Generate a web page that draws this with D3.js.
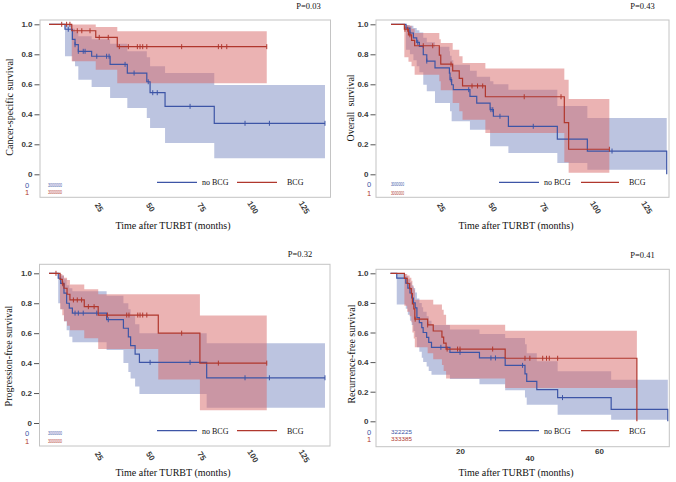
<!DOCTYPE html>
<html><head><meta charset="utf-8">
<script src="https://cdn.jsdelivr.net/npm/d3@7"></script>
<style>body{margin:0;background:#fff} svg{display:block}</style>
</head><body><svg width="676" height="482"></svg>
<script>
// ---------- data ----------
const groupNames = ["no BCG", "BCG"];
const pValues = ["P=0.03", "P=0.43", "P=0.32", "P=0.41"];
const yTitles = ["Cancer-specific survival", "Overall  survival", "Progression-free survival", "Recurrence-free survival"];
const xTitle = "Time after TURBT (months)";
const yTickValues = [0, 0.2, 0.4, 0.6, 0.8, 1.0];
const xTicksLong = [25, 50, 75, 100, 125];
const xTicksRfs = [20, 40, 60];
const riskGroupLabels = ["0", "1"];
const riskStrings = [["3000000", "3000000"], ["3000000", "3000000"], ["3000000", "3000000"], ["322225", "333385"]];

// rows: [time, survival, lower CL, upper CL]
const csNoBCG = [[0,1,1,1],[7.8,0.967,0.787,0.995],[11.4,0.9,0.753,0.97],[12.7,0.864,0.72,0.95],[14.3,0.82,0.63,0.92],[20.8,0.787,0.582,0.9],[29.8,0.733,0.509,0.87],[38.2,0.675,0.442,0.82],[47.7,0.617,0.375,0.78],[49.3,0.544,0.309,0.72],[56.6,0.453,0.209,0.675],[80.6,0.34,0.107,0.595]];
const csNoBCGCens = [9.4,12.7,14.3,16.7,17.6,23.3,28.1,29.3,37.1,41.5,48.4,50.6,52.8,68.8,95.6,107.5,134.6];
const csBCG = [[0,1,1,1],[11.1,0.957,0.753,0.998],[22.8,0.913,0.697,0.982],[33.3,0.851,0.607,0.953]];
const csBCGCens = [6.2,8.6,10.2,13.8,16,20,24.5,28.9,34.3,38.7,43.1,44.4,45.7,47.7,64.7,82.6,84.2,86.7,106.2];

const osNoBCG = [[0,1,1,1],[7.3,0.975,0.83,0.996],[9.2,0.942,0.8,0.99],[10.9,0.909,0.76,0.975],[12.5,0.88,0.72,0.96],[13.8,0.853,0.68,0.945],[15.7,0.797,0.597,0.91],[17.4,0.755,0.553,0.88],[21.4,0.709,0.475,0.85],[28.4,0.675,0.475,0.82],[28.7,0.631,0.42,0.79],[29.5,0.597,0.353,0.76],[30.3,0.564,0.353,0.73],[38.4,0.52,0.297,0.69],[41.7,0.475,0.297,0.65],[48.2,0.431,0.187,0.62],[49.8,0.387,0.187,0.6],[57.1,0.32,0.142,0.564],[80.9,0.235,0.075,0.455],[95.5,0.155,0.031,0.375]];
const osNoBCGCens = [9.2,13,17.4,29.2,37.8,48.6,49.5,53,69.2,107.5];
const osBCG = [[0,1,1,1],[6.5,0.967,0.78,0.995],[8.5,0.93,0.75,0.99],[10,0.893,0.72,0.97],[11.5,0.857,0.664,0.942],[23.5,0.795,0.62,0.9],[24.2,0.735,0.56,0.875],[30,0.689,0.475,0.83],[33.2,0.64,0.42,0.787],[34.8,0.589,0.364,0.742],[45.9,0.517,0.275,0.705],[84.3,0.345,0.08,0.63],[86.4,0.167,0.01,0.502]];
const osBCGCens = [6.8,8.1,9.2,15.7,20.3,29.2,39.4,42.1,44.6,64.8,82.7,106.2];

const pfsNoBCG = [[0,1,1,1],[4.5,0.967,0.8,0.995],[5.7,0.933,0.76,0.985],[7.3,0.867,0.68,0.96],[8.6,0.8,0.62,0.92],[9.9,0.767,0.576,0.9],[11.4,0.734,0.539,0.88],[28.1,0.69,0.488,0.85],[36.3,0.633,0.4,0.8],[38.7,0.575,0.34,0.76],[39.8,0.517,0.298,0.72],[42,0.46,0.243,0.66],[44.1,0.405,0.194,0.6],[76.9,0.302,0.102,0.532]];
const pfsNoBCGCens = [12.7,14.3,16.7,23.3,28.9,49.3,68.8,95.6,107.5,134.6];
const pfsBCG = [[0,1,1,1],[5.4,0.96,0.76,0.995],[6.5,0.93,0.72,0.985],[7.3,0.9,0.68,0.97],[8.8,0.86,0.65,0.955],[10.2,0.822,0.62,0.926],[17.2,0.777,0.566,0.893],[24,0.721,0.495,0.86],[53.3,0.6,0.29,0.86],[73.6,0.4,0.085,0.718]];
const pfsBCGCens = [3.4,6.7,11.9,13.8,15.9,19.2,22,28.5,37.9,39,43.3,44.4,45.7,47.7,64.7,82.6,106.2];

const rfsNoBCG = [[0,1,1,1],[1.8,0.967,0.79,0.995],[4.4,0.933,0.76,0.98],[5,0.9,0.72,0.96],[5.6,0.867,0.68,0.94],[6.1,0.833,0.65,0.92],[6.6,0.8,0.61,0.9],[7.1,0.767,0.57,0.87],[7.6,0.7,0.5,0.83],[8.3,0.667,0.47,0.8],[9,0.633,0.43,0.77],[9.4,0.6,0.4,0.74],[10.4,0.567,0.37,0.71],[11,0.533,0.34,0.68],[11.8,0.5,0.315,0.65],[17.1,0.466,0.285,0.62],[25.6,0.428,0.25,0.59],[33,0.378,0.21,0.563],[38.7,0.32,0.16,0.52],[39.2,0.27,0.112,0.46],[42.1,0.214,0.112,0.405],[48.1,0.16,0.045,0.338],[63.5,0.08,0.011,0.28]];
const rfsNoBCGCens = [14.5,20,28.9,30.2,38,49.5];
const rfsBCG = [[0,1,1,1],[4,0.966,0.78,0.995],[4.8,0.931,0.74,0.985],[5.5,0.897,0.71,0.97],[6,0.862,0.67,0.95],[6.3,0.793,0.6,0.91],[6.7,0.759,0.56,0.89],[7,0.69,0.5,0.822],[10.7,0.651,0.46,0.822],[12.3,0.61,0.42,0.79],[14.8,0.569,0.38,0.754],[15.3,0.528,0.34,0.72],[16,0.488,0.29,0.653],[33,0.426,0.225,0.612]];
const rfsBCGCens = [7.1,10.7,16.3,19.3,20,29.4,38.7,40.1,43.8,44.9,45.7,48.1];

// curve end times and whether the line drops to zero at the end
const endTimes = {cs:[134.6,106.2], os:[134.1,106.2], pfs:[134.6,106.2], rfs:[79.8,70.9]};
const dropToZero = {cs:[false,false], os:[true,false], pfs:[false,false], rfs:[true,true]};

// ---------- style ----------
const lineCol = ["#3d55a6", "#b0372d"];
const bandCol = ["#7a89c2", "#d86767"];
const serif = "Liberation Serif, Times New Roman, serif";
const sans = "Liberation Sans, Arial, sans-serif";

const svg = d3.select("svg");

const panels = [
  {key:"cs", data:[csNoBCG,csBCG], cens:[csNoBCGCens,csBCGCens], xDomain:[0,125], xRange:[49,305.3], yRange:[174.3,24.3],
   frame:[40,20,330.5,197.3], xTicks:xTicksLong, rotate:true, p:[308.5,8.5], yT:[9,107], xT:[173,229], legY:182.3, legX:[157,197,202,237,277,287],
   riskLX:27, riskY:[185,192.5], riskSX:48, riskW:14},
  {key:"os", data:[osNoBCG,osBCG], cens:[osNoBCGCens,osBCGCens], xDomain:[0,125], xRange:[391,648], yRange:[174.3,24.3],
   frame:[376,20,669,197.3], xTicks:xTicksLong, rotate:true, p:[642.5,8.5], yT:[350,108], xT:[516,229], legY:182.3, legX:[499,539,544,581,619,629],
   riskLX:369, riskY:[184.5,193], riskSX:391, riskW:13},
  {key:"pfs", data:[pfsNoBCG,pfsBCG], cens:[pfsNoBCGCens,pfsBCGCens], xDomain:[0,125], xRange:[49,305.3], yRange:[423,273.3],
   frame:[39.5,264.3,330,446], xTicks:xTicksLong, rotate:true, p:[300,257], yT:[8,356], xT:[173,476], legY:430.7, legX:[157,197,202,237,277,287],
   riskLX:27, riskY:[433,441], riskSX:48, riskW:14},
  {key:"rfs", data:[rfsNoBCG,rfsBCG], cens:[rfsNoBCGCens,rfsBCGCens], xDomain:[0,60], xRange:[390.5,599], yRange:[421.3,273.3],
   frame:[376,269.3,669.3,446.7], xTicks:xTicksRfs, rotate:false, p:[642.5,258], yT:[351,354], xT:[516,476], legY:430.7, legX:[499,539,544,581,619,629],
   riskLX:369, riskY:[432,439.5], riskSX:391, riskW:21}
];

panels.forEach((cfg, pi) => {
  const g = svg.append("g");
  const x = d3.scaleLinear().domain(cfg.xDomain).range(cfg.xRange);
  const y = d3.scaleLinear().domain([0,1]).range(cfg.yRange);
  const [fx0, fy0, fx1, fy1] = cfg.frame;

  // bands
  cfg.data.forEach((rows, ci) => {
    const last = rows[rows.length-1];
    const pts = rows.concat([[endTimes[cfg.key][ci], last[1], last[2], last[3]]]);
    g.append("path").datum(pts)
      .attr("d", d3.area().curve(d3.curveStepAfter).x(d=>x(d[0])).y0(d=>y(d[2])).y1(d=>y(d[3])))
      .attr("fill", bandCol[ci]).attr("fill-opacity", 0.5).attr("stroke", "none");
  });
  // lines + censor marks
  cfg.data.forEach((rows, ci) => {
    const last = rows[rows.length-1];
    const end = endTimes[cfg.key][ci];
    const pts = rows.map(r=>[r[0], r[1]]).concat([[end, last[1]]]);
    if (dropToZero[cfg.key][ci]) pts.push([end, 0]);
    g.append("path").datum(pts)
      .attr("d", d3.line().curve(d3.curveStepAfter).x(d=>x(d[0])).y(d=>y(d[1])))
      .attr("fill","none").attr("stroke", lineCol[ci]).attr("stroke-width", 1.2);
    const est = t => { let v = 1; rows.forEach(r => { if (r[0] <= t) v = r[1]; }); return v; };
    g.selectAll(null).data(cfg.cens[ci]).enter().append("line")
      .attr("x1", d=>x(d)).attr("x2", d=>x(d))
      .attr("y1", d=>y(est(d))-2.5).attr("y2", d=>y(est(d))+2.5)
      .attr("stroke", lineCol[ci]).attr("stroke-width", 1);
  });

  // frame
  g.append("rect").attr("x", fx0).attr("y", fy0).attr("width", fx1-fx0).attr("height", fy1-fy0)
    .attr("fill","none").attr("stroke","#c4c4c4").attr("stroke-width",1);

  // y axis
  const ya = g.append("g").attr("transform", `translate(${fx0-0.5},0)`)
    .call(d3.axisLeft(y).tickValues(yTickValues).tickSize(5).tickPadding(2)
      .tickFormat(d => d === 0 ? "0" : d3.format(".1f")(d)));
  ya.select(".domain").remove();
  ya.selectAll(".tick line").attr("stroke", "#555");
  ya.selectAll(".tick text").attr("font-family", sans).attr("font-size", 8).attr("font-weight", "bold").attr("fill", "#3a3a3a");

  // x axis
  const xa = g.append("g").attr("transform", `translate(0,${fy1})`)
    .call(d3.axisBottom(x).tickValues(cfg.xTicks).tickSize(0).tickFormat(d3.format("d")));
  xa.select(".domain").remove();
  xa.selectAll(".tick text").attr("font-family", sans).attr("font-size", 8).attr("font-weight", "bold").attr("fill", "#3a3a3a");
  if (cfg.rotate) {
    xa.selectAll(".tick text").attr("y", 0).attr("dy", "0.35em").attr("text-anchor", "middle")
      .attr("transform", "translate(-1.5,10) rotate(58)");
  } else {
    xa.selectAll(".tick text").attr("y", (d,i) => i % 2 ? 11.6 : 4).attr("dy", "0.35em");
  }

  // titles
  g.append("text").attr("x", cfg.p[0]).attr("y", cfg.p[1]).attr("text-anchor","middle")
    .attr("font-family", serif).attr("font-size", 8.5).attr("fill","#111").text(pValues[pi]);
  g.append("text").attr("transform", `translate(${cfg.yT[0]},${cfg.yT[1]}) rotate(-90)`)
    .attr("text-anchor","middle").attr("dy","0.35em").attr("font-family", serif).attr("font-size", 10).attr("fill","#111")
    .style("white-space","pre").text(yTitles[pi]);
  g.append("text").attr("x", cfg.xT[0]).attr("y", cfg.xT[1]).attr("text-anchor","middle")
    .attr("font-family", serif).attr("font-size", 10).attr("fill","#111").text(xTitle);

  // legend
  const L = cfg.legX;
  [[L[0],L[1],L[2]],[L[3],L[4],L[5]]].forEach((s, ci) => {
    g.append("line").attr("x1", s[0]).attr("x2", s[1]).attr("y1", cfg.legY).attr("y2", cfg.legY)
      .attr("stroke", lineCol[ci]).attr("stroke-width", 1.2);
    g.append("text").attr("x", s[2]).attr("y", cfg.legY).attr("dy","0.35em")
      .attr("font-family", serif).attr("font-size", 8).attr("fill","#111").text(groupNames[ci]);
  });

  // number at risk rows
  riskGroupLabels.forEach((lab, ci) => {
    g.append("text").attr("x", cfg.riskLX).attr("y", cfg.riskY[ci]).attr("dy","0.35em").attr("text-anchor","middle")
      .attr("font-family", sans).attr("font-size", 7.5).attr("fill", lineCol[ci]).text(lab);
    g.append("text").attr("x", cfg.riskSX).attr("y", cfg.riskY[ci]).attr("dy","0.35em")
      .attr("font-family", sans).attr("font-size", 5).attr("fill", lineCol[ci])
      .attr("textLength", cfg.riskW).attr("lengthAdjust","spacingAndGlyphs").text(riskStrings[pi][ci]);
  });
});
</script>
</body></html>
